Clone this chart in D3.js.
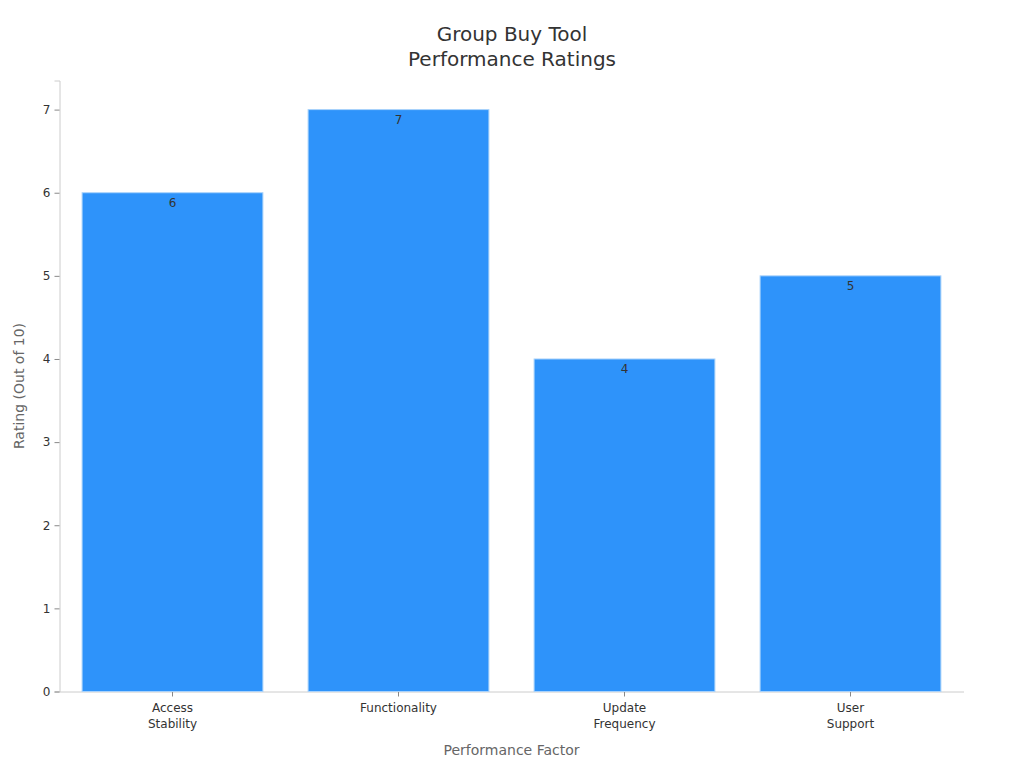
<!DOCTYPE html>
<html><head><meta charset="utf-8">
<script src="https://cdn.jsdelivr.net/npm/d3@7"></script>
<style>body{margin:0;background:#fff;font-family:"DejaVu Sans",sans-serif;}</style>
</head><body>
<svg id="c" width="1024" height="768"></svg>
<script>
const categories = [["Access","Stability"],["Functionality"],["Update","Frequency"],["User","Support"]];
const values = [6, 7, 4, 5];
const yTicks = [0,1,2,3,4,5,6,7];
const titleLines = ["Group Buy Tool","Performance Ratings"];

const svg = d3.select("#c");
const mLeft = 59.5, mRight = 963.5, mTop = 80.5, mBottom = 691.5;
const keys = categories.map(c => c.join(" "));
const x = d3.scaleBand().domain(keys).range([mLeft,mRight]).paddingInner(0.2).paddingOuter(0.1);
const y = d3.scaleLinear().domain([0,7.35]).range([mBottom,mTop]);

svg.append("g").selectAll("text").data(titleLines).join("text")
  .attr("x",512).attr("y",(d,i)=>41+i*25).attr("text-anchor","middle")
  .attr("font-size",20).attr("fill","#333").text(d=>d);

const ya = svg.append("g").attr("transform",`translate(${mLeft},0)`)
  .call(d3.axisLeft(y).tickValues(yTicks).tickSize(5).tickPadding(4).tickFormat(d3.format("d")));
ya.select(".domain").attr("stroke","#ccc");
ya.selectAll(".tick line").attr("stroke","#888");
ya.selectAll("text").attr("font-size",12).attr("fill","#333").attr("font-family","DejaVu Sans");

const xa = svg.append("g").attr("transform",`translate(0,${mBottom})`)
  .call(d3.axisBottom(x).tickSize(5).tickPadding(7).tickSizeOuter(0));
xa.select(".domain").attr("stroke","#ccc");
xa.selectAll(".tick line").attr("stroke","#888");
xa.selectAll(".tick text").attr("font-size",12).attr("fill","#333").attr("font-family","DejaVu Sans")
  .each(function(d,i){
    const t = d3.select(this); t.text(null);
    categories[i].forEach((w,j)=>t.append("tspan").attr("x",0).attr("dy",j===0?"0.71em":"1.33em").text(w));
  });

svg.append("g").selectAll("rect").data(values).join("rect")
  .attr("x",(d,i)=>x(keys[i])).attr("width",x.bandwidth())
  .attr("y",d=>y(d)).attr("height",d=>mBottom-y(d))
  .attr("fill","#2E93FA").attr("stroke","#a9d2fb").attr("stroke-width",1);

svg.append("g").selectAll("text").data(values).join("text")
  .attr("x",(d,i)=>x(keys[i])+x.bandwidth()/2).attr("y",d=>y(d)+14)
  .attr("text-anchor","middle").attr("font-size",12).attr("fill","#333").text(d=>d);

svg.append("text").attr("transform",`translate(24,${(mTop+mBottom)/2}) rotate(-90)`)
  .attr("text-anchor","middle").attr("font-size",14).attr("fill","#666").text("Rating (Out of 10)");
svg.append("text").attr("x",(mLeft+mRight)/2).attr("y",755)
  .attr("text-anchor","middle").attr("font-size",14).attr("fill","#666").text("Performance Factor");
</script>
</body></html>
